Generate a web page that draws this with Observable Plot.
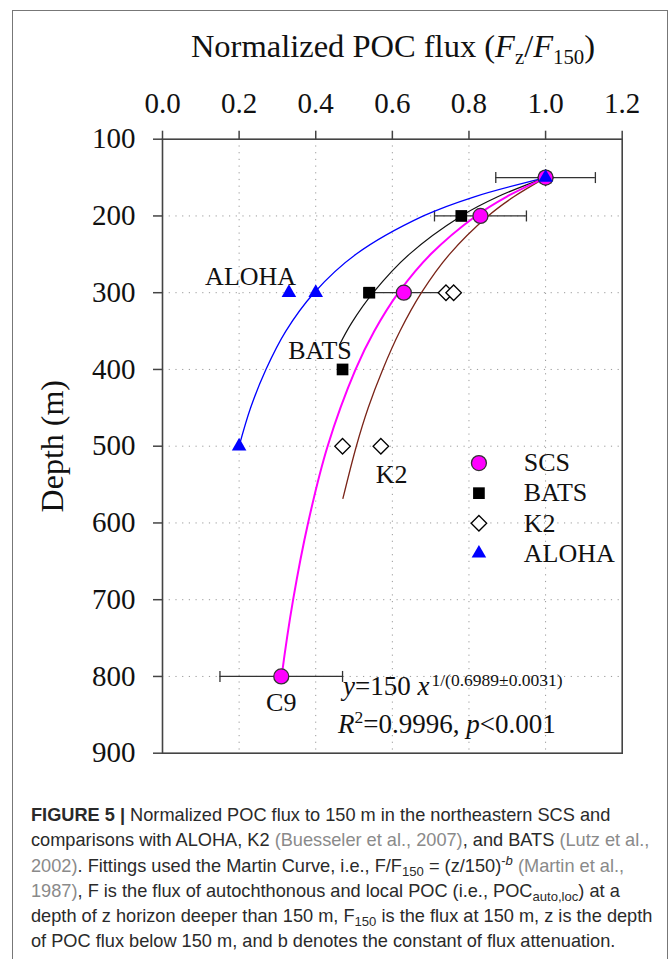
<!DOCTYPE html>
<html><head><meta charset="utf-8">
<script src="https://cdn.jsdelivr.net/npm/d3@7"></script>
<script src="https://cdn.jsdelivr.net/npm/@observablehq/plot@0.6"></script>
<style>
body{margin:0;background:#fff;width:672px;height:959px;position:relative;overflow:hidden;font-family:"Liberation Serif","Times New Roman",serif;}
#border{position:absolute;left:12px;top:10px;width:656px;height:1000px;border:1.5px solid #777;box-sizing:border-box;}
#title{position:absolute;top:30px;left:393px;transform:translateX(-50%);white-space:nowrap;font-size:32.5px;line-height:32.5px;color:#111;}
#title sub{font-size:64%;position:relative;top:0.32em;vertical-align:baseline;line-height:0;}
#chart{position:absolute;left:0;top:0;}
#caption{position:absolute;left:31px;top:803px;font-family:"Liberation Sans",Arial,sans-serif;font-size:18.2px;line-height:25.3px;color:#2a2a2a;white-space:nowrap;}
#caption .ref{color:#8a8a8a}
#caption sub,#caption sup{font-size:72%;line-height:0;position:relative;vertical-align:baseline}
#caption sub{top:0.3em} #caption sup{top:-0.5em}
</style></head>
<body>
<div id="border"></div>
<div id="title">Normalized POC flux (<i>F</i><sub>z</sub>/<i>F</i><sub>150</sub>)</div>
<div id="chart"></div>
<div id="caption"><b>FIGURE 5 |</b> Normalized POC flux to 150 m in the northeastern SCS and<br>comparisons with ALOHA, K2 <span class="ref">(Buesseler et al., 2007)</span>, and BATS <span class="ref">(Lutz et al.,</span><br><span class="ref">2002)</span>. Fittings used the Martin Curve, i.e., F/F<sub>150</sub> = (z/150)<sup>-<i>b</i></sup> <span class="ref">(Martin et al.,</span><br><span class="ref">1987)</span>, F is the flux of autochthonous and local POC (i.e., POC<sub>auto,loc</sub>) at a<br>depth of z horizon deeper than 150 m, F<sub>150</sub> is the flux at 150 m, z is the depth<br>of POC flux below 150 m, and b denotes the constant of flux attenuation.</div>
<script>
// ---- tick values ----
const xTicks = [0, 0.2, 0.4, 0.6, 0.8, 1.0, 1.2];
const yTicks = [100, 200, 300, 400, 500, 600, 700, 800, 900];
const xGrid = [0.2, 0.4, 0.6, 0.8, 1.0];
const yGrid = [200, 300, 400, 500, 600, 700, 800];

// ---- observations ----
const scsDepth = [150, 200, 300, 800];
const scsFlux = [1.0, 0.83, 0.63, 0.31];
const scsErrLow = [0.87, 0.71, 0.525, 0.15];
const scsErrHigh = [1.13, 0.95, 0.745, 0.47];
const scsSite = ["", "", "", "C9"];

const batsDepth = [150, 200, 300, 400];
const batsFlux = [1.0, 0.78, 0.54, 0.47];

const k2Depth = [150, 300, 300, 500, 500];
const k2Flux = [1.0, 0.74, 0.76, 0.47, 0.57];

const alohaDepth = [150, 300, 300, 500];
const alohaFlux = [1.0, 0.33, 0.40, 0.20];

// ---- fitted Martin curves ----
const scsFitDepth = [150, 175, 200, 250, 300, 350, 400, 500, 600, 700, 800];
const scsFitFlux = [1.0, 0.898, 0.818, 0.700, 0.616, 0.553, 0.504, 0.431, 0.380, 0.341, 0.311];
const batsFitDepth = [150, 175, 200, 250, 300, 340, 368];
const batsFitFlux = [1.0, 0.875, 0.78, 0.644, 0.55, 0.493, 0.462];
const alohaFitDepth = [150, 175, 200, 250, 300, 350, 400, 450, 500];
const alohaFitFlux = [1.0, 0.814, 0.681, 0.505, 0.396, 0.322, 0.270, 0.230, 0.200];
const k2FitDepth = [150, 175, 200, 250, 300, 350, 400, 450, 500, 568];
const k2FitFlux = [1.0, 0.917, 0.850, 0.749, 0.676, 0.620, 0.575, 0.537, 0.506, 0.471];

const legendNames = ["SCS", "BATS", "K2", "ALOHA"];

const rows = (d, f) => d.map((depth, i) => ({depth, flux: f[i]}));
const scs = scsDepth.map((depth, i) => ({depth, flux: scsFlux[i], lo: scsErrLow[i], hi: scsErrHigh[i], site: scsSite[i]}));
const caps = scs.flatMap(d => [{depth: d.depth, flux: d.lo}, {depth: d.depth, flux: d.hi}]);
const bats = rows(batsDepth, batsFlux);
const k2 = rows(k2Depth, k2Flux);
const aloha = rows(alohaDepth, alohaFlux);

const serif = "'Times New Roman','Liberation Serif',serif";
const capSymbol = {draw(ctx, size) { const r = Math.sqrt(size / Math.PI); ctx.moveTo(0, -r); ctx.lineTo(0, r); }};

// legend layout (depth units along the frame)
const legendRow = i => 522 + i * 39.2;
const legendRows = legendNames.map((name, i) => ({name, depth: legendRow(i)}));
const legendSymbols = [
  {symbol: "circle", r: 7.5, fill: "#ff00ff", stroke: "#333"},
  {symbol: "square", r: 6.6, fill: "#000", stroke: "none"},
  {symbol: "diamond2", r: 7.0, fill: "#fff", stroke: "#000"},
  {symbol: "triangle", r: 5.4, fill: "#0000ff", stroke: "none"}
];

const chart = Plot.plot({
  width: 672,
  height: 780,
  marginTop: 138.7,
  marginLeft: 162,
  marginRight: 50.3,
  marginBottom: 27.3,
  x: {domain: [0, 1.2]},
  y: {domain: [100, 900], reverse: true},
  style: {fontFamily: serif, background: "transparent", color: "#111", overflow: "visible"},
  marks: [
    Plot.gridX(xGrid, {stroke: "#9a9a9a", strokeOpacity: 1, strokeWidth: 1, strokeDasharray: "1.2,5.5"}),
    Plot.gridY(yGrid, {stroke: "#9a9a9a", strokeOpacity: 1, strokeWidth: 1, strokeDasharray: "1.2,5.5"}),
    Plot.frame({stroke: "#444", strokeWidth: 1.6}),
    Plot.axisX(xTicks, {anchor: "top", tickSize: 9, tickPadding: 17, tickFormat: d3.format(".1f"), fontSize: 29, label: null, stroke: "#444", strokeWidth: 1.5, fill: "#111"}),
    Plot.axisY(yTicks, {anchor: "left", tickSize: 9, tickPadding: 18, tickFormat: d => String(d), fontSize: 29, label: null, stroke: "#444", strokeWidth: 1.5, fill: "#111"}),
    Plot.text(["Depth (m)"], {text: d => d, frameAnchor: "left", dx: -110, rotate: -90, fontSize: 32, textAnchor: "middle", lineAnchor: "middle", fill: "#111"}),
    // error bars
    Plot.ruleY(scs, {x1: "lo", x2: "hi", y: "depth", stroke: "#333", strokeWidth: 1.3}),
    Plot.dot(caps, {x: "flux", y: "depth", symbol: capSymbol, r: 5.5, stroke: "#333", strokeWidth: 1.3}),
    // fitted curves
    Plot.line(rows(alohaFitDepth, alohaFitFlux), {x: "flux", y: "depth", curve: "catmull-rom", stroke: "#0000ff", strokeWidth: 1.3}),
    Plot.line(rows(batsFitDepth, batsFitFlux), {x: "flux", y: "depth", curve: "catmull-rom", stroke: "#111", strokeWidth: 1.2}),
    Plot.line(rows(k2FitDepth, k2FitFlux), {x: "flux", y: "depth", curve: "catmull-rom", stroke: "#7a2418", strokeWidth: 1.3}),
    Plot.line(rows(scsFitDepth, scsFitFlux), {x: "flux", y: "depth", curve: "catmull-rom", stroke: "#ff00ff", strokeWidth: 2}),
    // observations
    Plot.dot(k2, {x: "flux", y: "depth", symbol: "diamond2", r: 7.0, fill: "#fff", stroke: "#000", strokeWidth: 1.3}),
    Plot.dot(bats, {x: "flux", y: "depth", symbol: "square", r: 6.6, fill: "#000"}),
    Plot.dot(scs, {x: "flux", y: "depth", symbol: "circle", r: 7.5, fill: "#ff00ff", stroke: "#333", strokeWidth: 1.3}),
    Plot.dot(aloha, {x: "flux", y: "depth", symbol: "triangle", r: 5.4, fill: "#0000ff"}),
    // site labels
    Plot.text(["ALOHA"], {text: d => d, x: 0.23, y: 290, fontSize: 26, textAnchor: "middle", lineAnchor: "bottom", fill: "#111"}),
    Plot.text(["BATS"], {text: d => d, x: 0.411, y: 387, fontSize: 26, textAnchor: "middle", lineAnchor: "bottom", fill: "#111"}),
    Plot.text(["K2"], {text: d => d, x: 0.598, y: 548, fontSize: 26, textAnchor: "middle", lineAnchor: "bottom", fill: "#111"}),
    Plot.text(scs.filter(d => d.site), {text: "site", x: "flux", y: 845, fontSize: 26, textAnchor: "middle", lineAnchor: "bottom", fill: "#111"}),
    // legend
    ...legendSymbols.map((s, i) => Plot.dot([legendRows[i]], {x: 0.826, y: "depth", symbol: s.symbol, r: s.r, fill: s.fill, stroke: s.stroke, strokeWidth: 1.3})),
    Plot.text(legendRows, {text: "name", x: 0.943, y: "depth", fontSize: 26, textAnchor: "start", lineAnchor: "middle", fill: "#111"})
  ]
});
document.getElementById("chart").append(chart);

// fitted equation annotation, placed through the chart's scales
const X = chart.scale("x"), Y = chart.scale("y");
const svg = d3.select(chart);
const eq1 = svg.append("text").attr("x", X.apply(0.4726)).attr("y", Y.apply(825)).attr("text-anchor", "start")
  .attr("font-family", serif).attr("font-size", 27).attr("fill", "#111");
eq1.append("tspan").attr("font-style", "italic").text("y");
eq1.append("tspan").text("=150 ");
eq1.append("tspan").attr("font-style", "italic").text("x");
eq1.append("tspan").attr("font-size", 17.5).attr("dy", -9).attr("dx", 2).text("1/(0.6989\u00b10.0031)");
const eq2 = svg.append("text").attr("x", X.apply(0.4595)).attr("y", Y.apply(874)).attr("text-anchor", "start")
  .attr("font-family", serif).attr("font-size", 27).attr("fill", "#111");
eq2.append("tspan").attr("font-style", "italic").text("R");
eq2.append("tspan").attr("font-size", 17.5).attr("dy", -10).text("2");
eq2.append("tspan").attr("dy", 10).text("=0.9996, ");
eq2.append("tspan").attr("font-style", "italic").text("p");
eq2.append("tspan").text("<0.001");
</script>
</body></html>
